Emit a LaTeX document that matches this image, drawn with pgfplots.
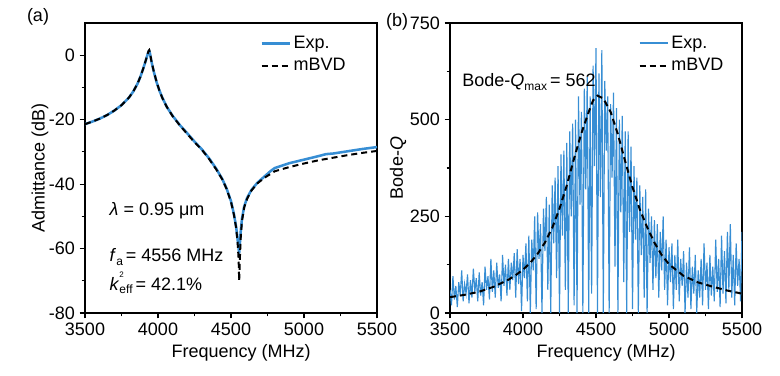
\documentclass[border=0pt]{standalone}
\usepackage{fontspec}
\setmainfont{Liberation Sans}
\usepackage{pgfplots}
\pgfplotsset{compat=1.18}
\definecolor{expblue}{RGB}{55,142,212}
\newcommand\fs{\fontsize{13.5}{16}\selectfont}
\pgfplotsset{
 myax/.style={
  scale only axis, width=219pt, height=217.5pt,
  anchor=south west,
  axis line style={line width=0.8pt},
  xmin=3500, xmax=5500,
  xtick={3500,4000,4500,5000,5500},
  minor xtick={3750,4250,4750,5250},
  tick align=outside, tick pos=left,
  major tick length=4pt, minor tick length=2.5pt,
  every tick/.style={black, line width=0.8pt},
  tick label style={font=\fs},
  /pgf/number format/assume math mode=true,
  /pgf/number format/1000 sep={},
  scaled ticks=false,
  legend cell align=left,
  legend style={draw=none, fill=none, font=\fs, anchor=north west, row sep=2pt, inner sep=0pt},
  legend image code/.code={\draw[##1] (0pt,0pt) -- (21pt,0pt);},
  xlabel={Frequency (MHz)},
  every axis x label/.style={at={(axis description cs:0.535,-0.138)}, anchor=center, font=\fs},
 }
}
\begin{document}
\begin{tikzpicture}
\useasboundingbox (0,0) rectangle (585pt,281.25pt);
\node[font=\fs] at (28.5pt,268.5pt) {(a)};
\node[font=\fs] at (297.75pt,264.75pt) {(b)};
% ---------- panel (a)
\begin{axis}[myax, at={(63.75pt,46.5pt)},
  ymin=-80, ymax=10,
  ytick={-80,-60,-40,-20,0},
  minor ytick={-70,-50,-30,-10},
  ylabel={Admittance (dB)},
  every axis y label/.style={at={(axis description cs:-0.154,0.5)}, anchor=center, rotate=90, font=\fs},
  legend style={at={(rel axis cs:0.6,0.965)}},
]
\addplot[expblue, line width=1.9pt] coordinates {
(3500,-21.4)(3550,-20.6)(3600,-19.7)(3650,-18.6)(3700,-17.2)(3750,-15.5)(3800,-13.2)
(3830,-11.3)(3860,-8.8)(3880,-6.6)(3900,-4.0)(3915,-1.8)(3925,-0.3)(3935,1.1)(3940,1.3)
(3945,0.6)(3955,-1.9)(3970,-4.9)(3990,-8.3)(4010,-11.0)(4030,-13.2)(4060,-16.0)
(4100,-18.8)(4150,-21.7)(4200,-24.2)(4250,-26.8)(4300,-29.2)(4350,-32.0)(4400,-35.3)
(4440,-38.4)(4470,-41.4)(4500,-45.3)(4520,-49.3)(4535,-53.2)(4545,-57.0)(4552,-60.0)
(4556,-61.5)(4560,-59.0)(4566,-55.0)(4575,-50.8)(4590,-47.0)(4610,-44.3)(4640,-41.8)
(4680,-39.6)(4730,-37.6)(4770,-36.0)(4800,-35.0)(4900,-33.5)(5000,-32.4)(5100,-31.3)(5150,-30.7)
(5200,-30.5)(5300,-29.8)(5400,-29.1)(5500,-28.5)};
\addlegendentry{Exp.}
\addplot[black, line width=1.5pt, dash pattern=on 4.5pt off 3pt] coordinates {
(3500,-21.4)(3550,-20.6)(3600,-19.7)(3650,-18.6)(3700,-17.2)(3750,-15.5)(3800,-13.2)
(3830,-11.3)(3860,-8.8)(3880,-6.6)(3900,-4.0)(3915,-1.8)(3925,-0.2)(3935,1.3)(3940,1.6)
(3945,0.8)(3955,-1.8)(3970,-4.8)(3990,-8.2)(4010,-11.0)(4030,-13.3)(4060,-16.0)
(4100,-18.9)(4150,-21.8)(4200,-24.4)(4250,-27.0)(4300,-29.3)(4350,-32.2)(4400,-35.5)
(4440,-38.5)(4470,-41.5)(4500,-45.5)(4520,-49.5)(4535,-53.5)(4545,-58.0)(4552,-63.0)
(4556,-70.0)(4560,-64.0)(4566,-57.0)(4575,-51.5)(4590,-47.3)(4610,-44.6)(4640,-42.0)
(4680,-39.8)(4730,-38.0)(4800,-36.0)(4900,-34.7)(5000,-33.6)(5100,-32.6)(5200,-31.8)
(5300,-31.0)(5400,-30.3)(5500,-29.7)};
\addlegendentry{mBVD}
\node[anchor=west, font=\fs] at (axis cs:3637,-48.3) {\textit{λ} = 0.95 μm};
\node[anchor=west, font=\fs] at (axis cs:3637,-62.6) {\textit{f}\raisebox{-0.35ex}{\fontsize{9}{10}\selectfont a}\,= 4556 MHz};
\node[anchor=west, font=\fs] at (axis cs:3637,-70.7) {\textit{k}\makebox[0pt][l]{\raisebox{1.3ex}{\fontsize{6}{7}\selectfont 2}}\raisebox{-0.35ex}{\fontsize{9}{10}\selectfont eff}\,= 42.1\%};
\end{axis}
% ---------- panel (b)
\begin{axis}[myax, at={(337.5pt,46.5pt)},
  ymin=0, ymax=750,
  ytick={0,250,500,750},
  minor ytick={125,375,625},
  ylabel={Bode-\textit{Q}},
  every axis y label/.style={at={(axis description cs:-0.178,0.5)}, anchor=center, rotate=90, font=\fs},
  legend style={at={(rel axis cs:0.645,0.965)}},
]
\addplot[expblue, line width=0.85pt, forget plot] coordinates {
(3500,60)(3510,20)(3520,95)(3530,35)(3540,70)(3550,15)(3560,80)(3570,45)(3580,110)(3590,30)
(3600,75)(3610,50)(3620,100)(3630,25)(3640,85)(3650,40)(3660,115)(3670,55)(3680,90)(3690,30)
(3700,105)(3710,45)(3720,80)(3730,20)(3740,120)(3750,60)(3760,95)(3770,35)(3780,140)(3790,55)
(3800,110)(3810,40)(3820,130)(3830,65)(3840,100)(3850,30)(3860,150)(3870,70)(3880,125)(3890,45)
(3900,140)(3910,60)(3920,130)(3930,85)(3940,155)(3950,40)(3960,165)(3970,75)(3980,140)(3990,5)
(4000,150)(4010,90)(4020,180)(4030,30)(4040,200)(4050,0)(4060,190)(4070,110)(4080,250)(4090,10)
(4100,260)(4110,140)(4120,230)(4130,0)(4140,270)(4150,160)(4160,300)(4170,60)(4180,280)(4190,0)
(4200,330)(4210,180)(4220,350)(4230,90)(4240,380)(4250,0)(4260,410)(4270,200)(4280,420)(4290,60)
(4300,440)(4310,0)(4320,470)(4330,250)(4340,490)(4350,20)(4360,500)(4370,0)(4380,560)(4390,280)
(4400,520)(4410,0)(4420,580)(4430,320)(4440,610)(4450,0)(4460,560)(4470,50)(4480,640)(4490,380)
(4500,685)(4510,0)(4520,620)(4530,300)(4540,680)(4550,0)(4560,600)(4570,420)(4580,560)(4590,0)
(4600,540)(4610,350)(4620,570)(4630,120)(4640,530)(4650,0)(4660,500)(4670,260)(4680,510)(4690,80)
(4700,470)(4710,0)(4720,470)(4730,210)(4740,430)(4750,10)(4760,380)(4770,190)(4780,350)(4790,0)
(4800,330)(4810,150)(4820,300)(4830,40)(4840,320)(4850,0)(4860,270)(4870,130)(4880,250)(4890,60)
(4900,240)(4910,90)(4920,230)(4930,40)(4940,210)(4950,110)(4960,250)(4970,60)(4980,190)(4990,20)
(5000,170)(5010,80)(5020,180)(5030,10)(5040,150)(5050,60)(5060,190)(5070,30)(5080,140)(5090,70)
(5100,160)(5110,0)(5120,130)(5130,40)(5140,170)(5150,10)(5160,120)(5170,50)(5180,150)(5190,0)
(5200,110)(5210,40)(5220,140)(5230,20)(5240,180)(5250,60)(5260,130)(5270,10)(5280,150)(5290,45)
(5300,120)(5310,30)(5320,190)(5330,55)(5340,140)(5350,15)(5360,200)(5370,50)(5380,160)(5390,25)
(5400,210)(5410,60)(5420,230)(5430,40)(5440,150)(5450,20)(5460,180)(5470,70)(5480,140)(5490,30)
(5500,210)};
\addlegendimage{expblue, line width=1.5pt}
\addlegendentry{Exp.}
\addplot[black, line width=1.5pt, dash pattern=on 4.5pt off 3pt] coordinates {
(3500,41)(3600,47)(3700,55)(3800,68)(3900,86)(3950,98)(4000,112)(4050,130)(4100,153)
(4150,182)(4200,220)(4250,270)(4300,330)(4350,400)(4400,465)(4450,520)(4480,550)(4510,562)
(4550,555)(4600,520)(4650,462)(4700,392)(4750,325)(4800,268)(4850,222)(4900,182)(4950,150)
(5000,126)(5100,96)(5200,79)(5300,68)(5400,58)(5500,50)};
\addlegendentry{mBVD}
\node[anchor=west, font=\fs] at (axis cs:3553,597) {Bode-\textit{Q}\raisebox{-0.35ex}{\fontsize{9}{10}\selectfont max}\,= 562};
\end{axis}
\end{tikzpicture}
\end{document}
